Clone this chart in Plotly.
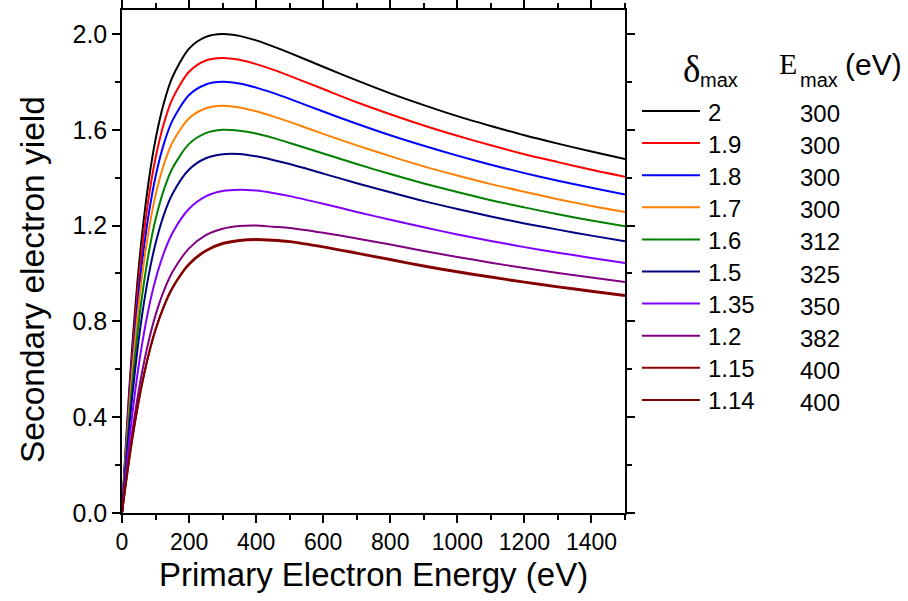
import plotly.graph_objects as go

# Primary electron energy (eV) sample positions
energy = [0, 5, 10, 20, 30, 45, 60, 80, 100, 125, 150, 200, 250, 300, 350, 400,
          450, 500, 600, 700, 800, 900, 1000, 1100, 1200, 1300, 1400, 1500]

# Secondary electron yield for each curve
sey_200 = [0, 0.127, 0.250, 0.479, 0.684, 0.948, 1.164, 1.390, 1.560, 1.713, 1.819, 1.939, 1.988, 2.000,
           1.992, 1.973, 1.948, 1.921, 1.863, 1.806, 1.752, 1.703, 1.657, 1.616, 1.577, 1.542, 1.509, 1.478]
sey_190 = [0, 0.121, 0.237, 0.455, 0.650, 0.901, 1.106, 1.321, 1.482, 1.627, 1.728, 1.842, 1.889, 1.900,
           1.892, 1.874, 1.851, 1.825, 1.770, 1.715, 1.665, 1.618, 1.575, 1.535, 1.498, 1.465, 1.433, 1.404]
sey_180 = [0, 0.114, 0.225, 0.431, 0.616, 0.853, 1.048, 1.251, 1.404, 1.542, 1.637, 1.745, 1.789, 1.800,
           1.793, 1.776, 1.754, 1.729, 1.676, 1.625, 1.577, 1.533, 1.492, 1.454, 1.419, 1.387, 1.358, 1.330]
sey_170 = [0, 0.108, 0.212, 0.407, 0.582, 0.806, 0.990, 1.182, 1.326, 1.456, 1.546, 1.648, 1.690, 1.700,
           1.693, 1.677, 1.656, 1.633, 1.583, 1.535, 1.490, 1.447, 1.409, 1.373, 1.341, 1.310, 1.282, 1.257]
sey_160 = [0, 0.098, 0.193, 0.370, 0.529, 0.736, 0.907, 1.088, 1.225, 1.350, 1.438, 1.541, 1.586, 1.600,
           1.596, 1.584, 1.566, 1.545, 1.501, 1.457, 1.415, 1.376, 1.340, 1.306, 1.276, 1.247, 1.221, 1.197]
sey_150 = [0, 0.088, 0.174, 0.334, 0.479, 0.669, 0.827, 0.996, 1.125, 1.246, 1.331, 1.434, 1.481, 1.498,
           1.499, 1.489, 1.474, 1.457, 1.417, 1.377, 1.339, 1.302, 1.269, 1.238, 1.209, 1.183, 1.158, 1.135]
sey_135 = [0, 0.074, 0.145, 0.281, 0.404, 0.568, 0.706, 0.857, 0.975, 1.086, 1.168, 1.270, 1.322, 1.344,
           1.350, 1.346, 1.336, 1.323, 1.291, 1.257, 1.224, 1.193, 1.163, 1.136, 1.110, 1.087, 1.065, 1.044]
sey_120 = [0, 0.060, 0.119, 0.230, 0.333, 0.470, 0.589, 0.720, 0.826, 0.928, 1.005, 1.105, 1.160, 1.187,
           1.198, 1.200, 1.195, 1.190, 1.170, 1.146, 1.121, 1.094, 1.069, 1.045, 1.023, 1.002, 0.983, 0.964]
sey_115 = [0, 0.055, 0.108, 0.210, 0.305, 0.431, 0.542, 0.666, 0.767, 0.865, 0.940, 1.041, 1.097, 1.127,
           1.140, 1.144, 1.141, 1.135, 1.113, 1.087, 1.060, 1.033, 1.009, 0.987, 0.966, 0.946, 0.928, 0.910]
sey_114 = [0, 0.055, 0.108, 0.209, 0.304, 0.430, 0.540, 0.664, 0.764, 0.862, 0.937, 1.037, 1.093, 1.123,
           1.136, 1.140, 1.137, 1.131, 1.109, 1.083, 1.056, 1.029, 1.005, 0.983, 0.962, 0.942, 0.924, 0.906]

delta_labels = ["2", "1.9", "1.8", "1.7", "1.6", "1.5", "1.35", "1.2", "1.15", "1.14"]
emax_labels = ["300", "300", "300", "300", "312", "325", "350", "382", "400", "400"]
series = [sey_200, sey_190, sey_180, sey_170, sey_160, sey_150, sey_135, sey_120, sey_115, sey_114]
colors = ["#000000", "#FF0000", "#0000FF", "#FF8000", "#008000", "#000080",
          "#8000FF", "#800080", "#8B0000", "#800000"]

W, H = 908, 601
L, R, T, B = 122, 625, 10, 513  # plot area in pixels


def px(x):
    return (x - L) / (R - L)


def py(y):
    return (B - y) / (B - T)


fig = go.Figure()
for ys, c, name in zip(series, colors, delta_labels):
    fig.add_trace(go.Scatter(x=energy, y=ys, mode="lines", name=name,
                             line=dict(color=c, width=2, shape="spline", smoothing=0.8),
                             showlegend=False))

annotations = []
shapes = []
row0, step = 111, 32.1
for i, (lab, em, c) in enumerate(zip(delta_labels, emax_labels, colors)):
    yc = row0 + step * i
    shapes.append(dict(type="line", xref="paper", yref="paper",
                       x0=px(642), x1=px(700), y0=py(yc), y1=py(yc),
                       line=dict(color=c, width=2)))
    annotations.append(dict(text=lab, xref="paper", yref="paper", x=px(706), y=py(yc + 1),
                            xanchor="left", yanchor="middle", showarrow=False,
                            font=dict(size=24, color="black")))
    annotations.append(dict(text=em, xref="paper", yref="paper", x=px(798), y=py(yc + 2.5),
                            xanchor="left", yanchor="middle", showarrow=False,
                            font=dict(size=24, color="black")))

# legend headers
annotations += [
    dict(text="δ", xref="paper", yref="paper", x=px(681), y=py(70), xanchor="left", yanchor="middle",
         showarrow=False, font=dict(size=37, family="Liberation Serif", color="black")),
    dict(text="max", xref="paper", yref="paper", x=px(698), y=py(80), xanchor="left", yanchor="middle",
         showarrow=False, font=dict(size=20, color="black")),
    dict(text="E", xref="paper", yref="paper", x=px(777), y=py(63), xanchor="left", yanchor="middle",
         showarrow=False, font=dict(size=30, family="Liberation Serif", color="black")),
    dict(text="max", xref="paper", yref="paper", x=px(798), y=py(80), xanchor="left", yanchor="middle",
         showarrow=False, font=dict(size=20, color="black")),
    dict(text="(eV)", xref="paper", yref="paper", x=px(843), y=py(64), xanchor="left", yanchor="middle",
         showarrow=False, font=dict(size=30, color="black")),
    # axis titles
    dict(text="Primary Electron Energy (eV)", xref="paper", yref="paper", x=px(373.5), y=py(574),
         xanchor="center", yanchor="middle", showarrow=False, font=dict(size=33, color="black")),
    dict(text="Secondary electron yield", xref="paper", yref="paper", x=px(32), y=py(280),
         xanchor="center", yanchor="middle", textangle=-90, showarrow=False,
         font=dict(size=33.5, color="black")),
]

axis_common = dict(showline=True, linecolor="black", linewidth=1.5, mirror="ticks",
                   ticks="outside", ticklen=8, tickwidth=1.5, tickcolor="black",
                   showgrid=False, zeroline=False, automargin=False)

fig.update_layout(
    width=W, height=H,
    margin=dict(l=L, r=W - R, t=T, b=H - B),
    paper_bgcolor="white", plot_bgcolor="white",
    font=dict(family="Liberation Sans", color="black"),
    xaxis=dict(range=[0, 1500], tickvals=[0, 200, 400, 600, 800, 1000, 1200, 1400],
               tickfont=dict(size=23, color="black"),
               minor=dict(tickvals=[100, 300, 500, 700, 900, 1100, 1300, 1500], ticklen=5,
                          ticks="outside", tickcolor="black", tickwidth=1.5),
               **axis_common),
    yaxis=dict(range=[0, 2.1], tickvals=[0, 0.4, 0.8, 1.2, 1.6, 2.0], tickformat=".1f",
               tickfont=dict(size=25, color="black"),
               minor=dict(tickvals=[0.2, 0.6, 1.0, 1.4, 1.8], ticklen=5,
                          ticks="outside", tickcolor="black", tickwidth=1.5),
               **axis_common),
    annotations=annotations,
    shapes=shapes,
)

fig.write_html("out.html")
